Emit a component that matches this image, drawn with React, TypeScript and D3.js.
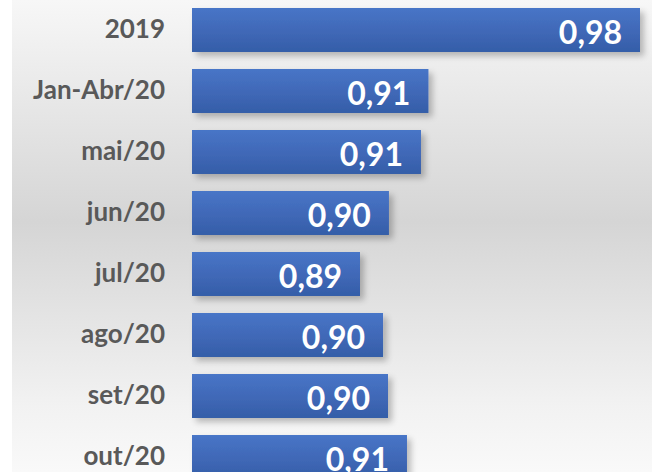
import React from "react";
import * as d3 from "d3";

const categories = ["2019", "Jan-Abr/20", "mai/20", "jun/20", "jul/20", "ago/20", "set/20", "out/20"];
const values = [0.98, 0.912, 0.9096, 0.8993, 0.89, 0.8974, 0.899, 0.9051];
const axisMin = 0.836;
const axisMax = 0.98;

const W = 652;
const H = 472;

export default function App() {
  const x = d3.scaleLinear().domain([axisMin, axisMax]).range([192, 640]);
  const y = d3
    .scaleBand<string>()
    .domain(categories)
    .range([8, 479])
    .paddingInner(0.279)
    .paddingOuter(0);
  const fmt = (v: number) => d3.format(".2f")(v).replace(".", ",");
  const font = "Lato, 'Open Sans', sans-serif";
  return (
    <svg
      width={W}
      height={H}
      style={{ position: "fixed", left: 0, top: 0, display: "block" }}
    >
      <defs>
        <linearGradient id="bg" x1="0" y1="0" x2="0" y2="1">
          <stop offset="0" stopColor="#f7f7f7" />
          <stop offset="0.47" stopColor="#d5d5d5" />
          <stop offset="0.86" stopColor="#f2f2f2" />
          <stop offset="1" stopColor="#f9f9f9" />
        </linearGradient>
        <linearGradient id="bar" x1="0" y1="0" x2="0" y2="1">
          <stop offset="0" stopColor="#4775c7" />
          <stop offset="0.5" stopColor="#4169b8" />
          <stop offset="1" stopColor="#345ea8" />
        </linearGradient>
        <filter id="shadow" x="-10%" y="-30%" width="130%" height="180%">
          <feGaussianBlur in="SourceAlpha" stdDeviation="3" />
          <feOffset dx="4" dy="4" result="b" />
          <feComponentTransfer>
            <feFuncA type="linear" slope="0.25" />
          </feComponentTransfer>
          <feMerge>
            <feMergeNode />
            <feMergeNode in="SourceGraphic" />
          </feMerge>
        </filter>
      </defs>
      <rect x={0} y={0} width={W} height={H} fill="#ffffff" />
      <rect x={12} y={0} width={W - 12} height={H} fill="url(#bg)" />
      {categories.map((c, i) => {
        const by = y(c)!;
        const bh = y.bandwidth();
        const bx = x(axisMin);
        const bw = x(values[i]) - bx;
        return (
          <g key={c}>
            <rect x={bx} y={by} width={bw} height={bh} fill="url(#bar)" filter="url(#shadow)" />
            <text
              x={165}
              y={by + bh / 2 - 1}
              dy="0.35em"
              textAnchor="end"
              fontFamily={font}
              fontWeight={700}
              fontSize={26}
              fill="#595959"
            >
              {c}
            </text>
            <text
              x={x(values[i]) - 18}
              y={by + bh / 2 + 2}
              dy="0.36em"
              textAnchor="end"
              fontFamily={font}
              fontWeight={700}
              fontSize={32}
              fill="#ffffff"
            >
              {fmt(values[i])}
            </text>
          </g>
        );
      })}
    </svg>
  );
}
